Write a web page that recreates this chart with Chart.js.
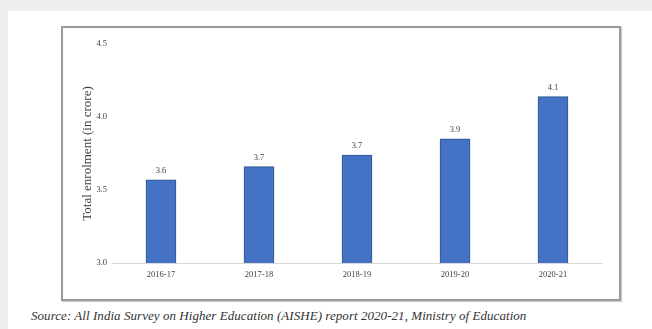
<!DOCTYPE html>
<html>
<head>
<meta charset="utf-8">
<script src="https://cdn.jsdelivr.net/npm/chart.js@4.4.1/dist/chart.umd.min.js"></script>
<style>
  html, body { margin: 0; padding: 0; }
  body { width: 652px; height: 329px; background: #eff0ee; position: relative; overflow: hidden; }
  #panel { position: absolute; left: 8px; top: 11px; width: 644px; height: 318px; background: #ffffff; }
  #box { position: absolute; left: 61px; top: 26px; width: 556px; height: 271px; border: 2px solid #9a9a9a; box-shadow: 1px 1px 1px #d0d0d0; background: #fff; }
  #box canvas { position: absolute; left: 0; top: 0; }
  #source { position: absolute; left: 31px; top: 308px; font-family: "Liberation Serif", serif; font-style: italic; font-size: 13px; letter-spacing: 0.05px; color: #333; white-space: nowrap; }
</style>
</head>
<body>
<div id="panel"></div>
<div id="box"><canvas id="c" width="556" height="271"></canvas></div>
<div id="source">Source: All India Survey on Higher Education (AISHE) report 2020-21, Ministry of Education</div>
<script>
const categories = ["2016-17", "2017-18", "2018-19", "2019-20", "2020-21"];
const enrolment = [3.57, 3.66, 3.74, 3.85, 4.14];
const valueLabels = ["3.6", "3.7", "3.7", "3.9", "4.1"];
const yTicks = [3.0, 3.5, 4.0, 4.5];
const yTitle = "Total enrolment (in crore)";

const barLabelPlugin = {
  id: 'barLabels',
  afterDatasetsDraw(chart) {
    const ctx = chart.ctx;
    const meta = chart.getDatasetMeta(0);
    ctx.save();
    ctx.font = '8.5px "Liberation Serif", serif';
    ctx.fillStyle = '#404040';
    ctx.textAlign = 'center';
    ctx.textBaseline = 'bottom';
    meta.data.forEach((bar, i) => {
      ctx.fillText(valueLabels[i], bar.x, bar.y - 5);
    });
    ctx.restore();
  }
};

new Chart(document.getElementById('c'), {
  type: 'bar',
  data: {
    labels: categories,
    datasets: [{
      data: enrolment,
      backgroundColor: '#4472c4',
      borderColor: '#2f528f',
      borderWidth: 1,
      barThickness: 30
    }]
  },
  options: {
    responsive: false,
    animation: false,
    layout: { padding: { left: 0, right: 17, top: 16, bottom: 0 } },
    plugins: { legend: { display: false }, tooltip: { enabled: false } },
    scales: {
      x: {
        grid: { display: false, drawTicks: false },
        border: { display: true, color: '#d9d9d9', width: 1 },
        ticks: { color: '#404040', font: { family: '"Liberation Serif", serif', size: 8.5 }, padding: 7, maxRotation: 0 },
        afterFit(scale) { scale.height = 36; }
      },
      y: {
        min: 3.0, max: 4.5,
        grid: { display: false, drawTicks: false },
        border: { display: false },
        afterBuildTicks(scale) { scale.ticks = yTicks.map(v => ({ value: v })); },
        ticks: {
          color: '#404040',
          font: { family: '"Liberation Serif", serif', size: 8.5 },
          padding: 5,
          callback: v => Number(v).toFixed(1)
        },
        title: {
          display: true, text: yTitle, color: '#404040',
          font: { family: '"Liberation Serif", serif', size: 13 }, padding: { top: 17, bottom: 0 }
        },
        afterFit(scale) { scale.width = 49; }
      }
    }
  },
  plugins: [barLabelPlugin]
});
</script>
</body>
</html>
